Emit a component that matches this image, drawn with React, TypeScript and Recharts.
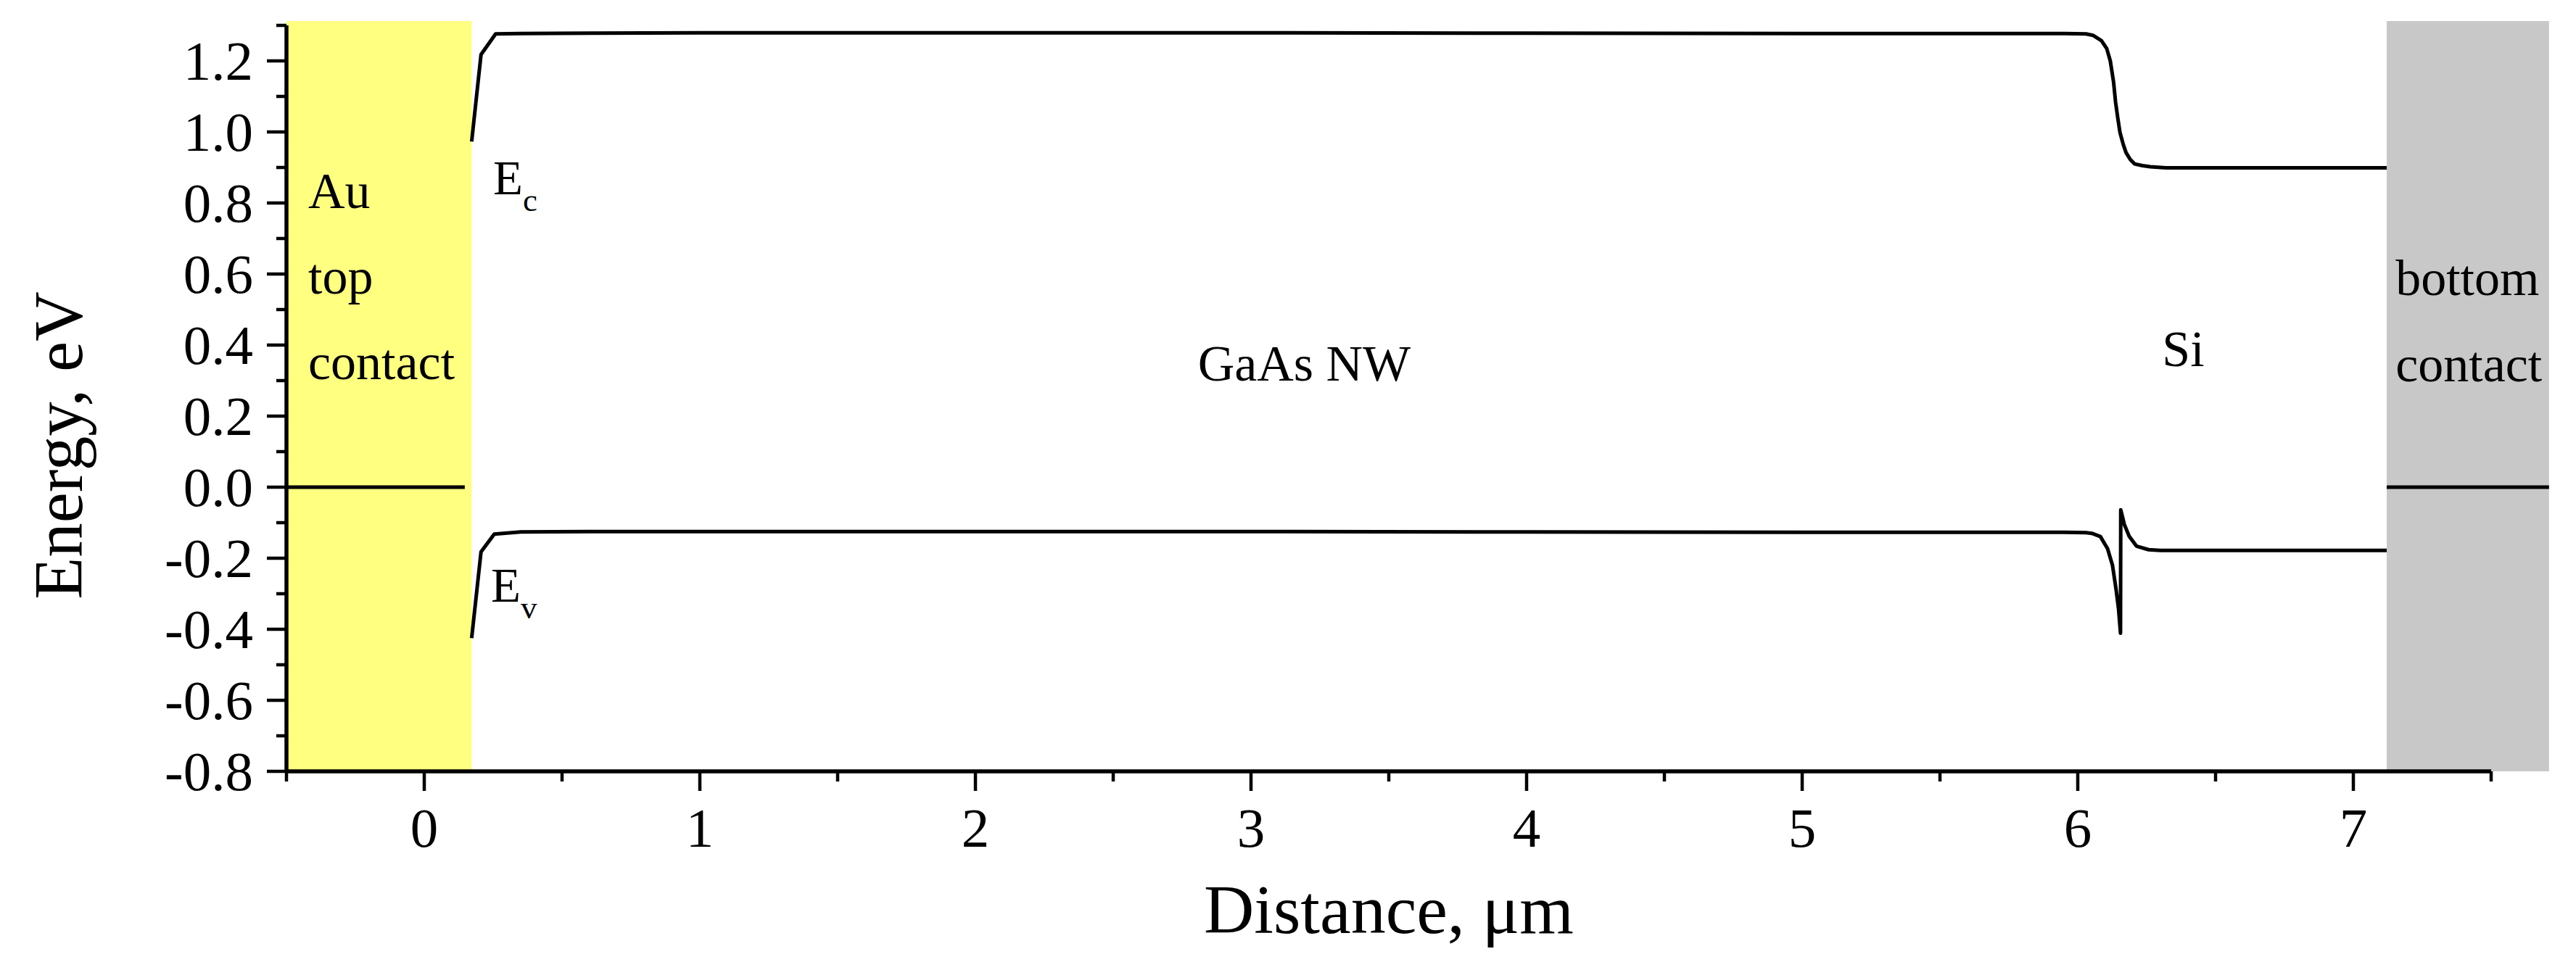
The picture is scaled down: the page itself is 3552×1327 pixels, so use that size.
import React from "react";
import {
  LineChart,
  Line,
  XAxis,
  YAxis,
  ReferenceArea,
  ReferenceLine,
  ReferenceDot,
  Label,
} from "recharts";

const FONT = '"Liberation Serif", "Times New Roman", serif';

// conduction band edge Ec (distance in um, energy in eV)
const ecDistance = [
  0.172, 0.206, 0.259, 0.35, 0.6, 1.0, 2.0, 3.0, 4.0, 5.0, 5.95, 6.03, 6.055, 6.086,
  6.105, 6.118, 6.13, 6.137, 6.145, 6.153, 6.165, 6.175, 6.19, 6.206, 6.235, 6.263,
  6.32, 7.121,
];
const ecEnergy = [
  0.973, 1.218, 1.276, 1.277, 1.278, 1.279, 1.279, 1.279, 1.278, 1.277, 1.277, 1.276,
  1.272, 1.257, 1.235, 1.2, 1.14, 1.085, 1.04, 0.999, 0.965, 0.942, 0.923, 0.91, 0.905,
  0.902, 0.899, 0.899,
];

// valence band edge Ev
const evDistance = [
  0.172, 0.206, 0.254, 0.35, 0.6, 1.0, 2.0, 3.0, 4.0, 5.0, 5.95, 6.03, 6.051, 6.082,
  6.108, 6.126, 6.139, 6.148, 6.155, 6.156, 6.169, 6.187, 6.213, 6.257, 6.3, 7.121,
];
const evEnergy = [
  -0.425, -0.182, -0.132, -0.126, -0.125, -0.125, -0.125, -0.125, -0.126, -0.127,
  -0.127, -0.128, -0.13, -0.139, -0.173, -0.22, -0.288, -0.343, -0.411, -0.064, -0.105,
  -0.139, -0.166, -0.176, -0.178, -0.178,
];

// contacts and Fermi level inside them
const topContact = [-0.5, 0.172];
const bottomContact = [7.121, 7.71];
const contactEnergy = [-0.8, 1.312];
const fermiTop = [-0.5, 0.147];
const fermiBottom = [7.121, 7.71];

const xTicks = [-0.5, 0, 0.5, 1, 1.5, 2, 2.5, 3, 3.5, 4, 4.5, 5, 5.5, 6, 6.5, 7, 7.5];
const yTicks = [
  -0.8, -0.7, -0.6, -0.5, -0.4, -0.3, -0.2, -0.1, 0, 0.1, 0.2, 0.3, 0.4, 0.5, 0.6, 0.7,
  0.8, 0.9, 1.0, 1.1, 1.2, 1.3,
];

const notes = [
  { text: "Au", x: -0.421, y: 0.786 },
  { text: "top", x: -0.421, y: 0.545 },
  { text: "contact", x: -0.421, y: 0.304 },
  { text: "GaAs NW", x: 2.807, y: 0.3 },
  { text: "Si", x: 6.306, y: 0.341 },
  { text: "bottom", x: 7.153, y: 0.541 },
  { text: "contact", x: 7.153, y: 0.298 },
];

const bandNotes = [
  { main: "E", sub: "c", x: 0.25, y: 0.824 },
  { main: "E", sub: "v", x: 0.242, y: -0.322 },
];

const ecData = ecDistance.map((x, i) => ({ x, y: ecEnergy[i] }));
const evData = evDistance.map((x, i) => ({ x, y: evEnergy[i] }));

const TICK = 27;
const MINOR = 14;
const GAP = 19;

function YTick(props: any) {
  const { x, y, payload } = props;
  const v = payload.value as number;
  const major = Math.abs(Math.round(v * 10)) % 2 === 0;
  const axisX = x + TICK + GAP;
  return (
    <g>
      <line x1={axisX - (major ? TICK : MINOR)} x2={axisX} y1={y} y2={y} stroke="#000" strokeWidth={4.5} />
      {major && (
        <text x={x} y={y + 26} textAnchor="end" fontSize={77} fontFamily={FONT} fill="#000">
          {v.toFixed(1)}
        </text>
      )}
    </g>
  );
}

function XTick(props: any) {
  const { x, y, payload } = props;
  const v = payload.value as number;
  const major = Number.isInteger(v);
  const axisY = y - TICK;
  return (
    <g>
      <line x1={x} x2={x} y1={axisY} y2={axisY + (major ? TICK : MINOR)} stroke="#000" strokeWidth={4.5} />
      {major && (
        <text x={x} y={axisY + 104} textAnchor="middle" fontSize={77} fontFamily={FONT} fill="#000">
          {v}
        </text>
      )}
    </g>
  );
}

function XTitle(props: any) {
  const vb = props.viewBox || { x: 395, y: 1064, width: 3040, height: 263 };
  return (
    <text x={vb.x + vb.width / 2} y={vb.y + 223} textAnchor="middle" fontSize={96} fontFamily={FONT} fill="#000">
      Distance, μm
    </text>
  );
}

function YTitle(props: any) {
  const vb = props.viewBox || { x: 0, y: 35, width: 395, height: 1029 };
  const cx = 113;
  const cy = vb.y + vb.height / 2 + 65;
  return (
    <text
      x={cx}
      y={cy}
      transform={`rotate(-90, ${cx}, ${cy})`}
      textAnchor="middle"
      fontSize={95}
      fontFamily={FONT}
      fill="#000"
    >
      Energy, eV
    </text>
  );
}

export default function App() {
  return (
    <div style={{ position: "absolute", left: 0, top: 0, background: "#fff" }}>
      <LineChart width={3552} height={1327} margin={{ top: 35, right: 117, bottom: 0, left: 0 }}>
        <ReferenceArea
          x1={topContact[0]}
          x2={topContact[1]}
          y1={contactEnergy[0]}
          y2={contactEnergy[1]}
          fill="#ffff80"
          fillOpacity={1}
          stroke="none"
          ifOverflow="visible"
        />
        <ReferenceArea
          x1={bottomContact[0]}
          x2={bottomContact[1]}
          y1={contactEnergy[0]}
          y2={contactEnergy[1]}
          fill="#c8c8c8"
          fillOpacity={1}
          stroke="none"
          ifOverflow="visible"
        />
        <XAxis
          type="number"
          dataKey="x"
          domain={[-0.5, 7.5]}
          ticks={xTicks}
          interval={0}
          allowDataOverflow
          height={263}
          tickSize={TICK}
          tickMargin={0}
          tickLine={false}
          axisLine={{ stroke: "#000", strokeWidth: 5.5 }}
          tick={<XTick />}
        >
          <Label content={<XTitle />} />
        </XAxis>
        <YAxis
          type="number"
          dataKey="y"
          domain={[-0.8, 1.3]}
          ticks={yTicks}
          interval={0}
          allowDataOverflow
          width={395}
          tickSize={TICK}
          tickMargin={GAP}
          tickLine={false}
          axisLine={{ stroke: "#000", strokeWidth: 5.5 }}
          tick={<YTick />}
        >
          <Label content={<YTitle />} />
        </YAxis>
        <ReferenceLine
          segment={[
            { x: fermiTop[0], y: 0 },
            { x: fermiTop[1], y: 0 },
          ]}
          stroke="#000"
          strokeWidth={5}
          ifOverflow="visible"
        />
        <ReferenceLine
          segment={[
            { x: fermiBottom[0], y: 0 },
            { x: fermiBottom[1], y: 0 },
          ]}
          stroke="#000"
          strokeWidth={5}
          ifOverflow="visible"
        />
        <Line
          data={ecData}
          dataKey="y"
          type="linear"
          stroke="#000"
          strokeWidth={5}
          strokeLinejoin="round"
          dot={false}
          activeDot={false}
          isAnimationActive={false}
        />
        <Line
          data={evData}
          dataKey="y"
          type="linear"
          stroke="#000"
          strokeWidth={5}
          strokeLinejoin="round"
          dot={false}
          activeDot={false}
          isAnimationActive={false}
        />
        {notes.map((n, i) => (
          <ReferenceDot
            key={`note-${i}`}
            x={n.x}
            y={n.y}
            r={0}
            ifOverflow="visible"
            shape={(p: any) => (
              <text x={p.cx} y={p.cy} fontSize={70} fontFamily={FONT} fill="#000">
                {n.text}
              </text>
            )}
          />
        ))}
        {bandNotes.map((n, i) => (
          <ReferenceDot
            key={`band-${i}`}
            x={n.x}
            y={n.y}
            r={0}
            ifOverflow="visible"
            shape={(p: any) => (
              <text x={p.cx} y={p.cy} fontSize={67} fontFamily={FONT} fill="#000">
                {n.main}
                <tspan fontSize={45} dy={23}>
                  {n.sub}
                </tspan>
              </text>
            )}
          />
        ))}
      </LineChart>
    </div>
  );
}
